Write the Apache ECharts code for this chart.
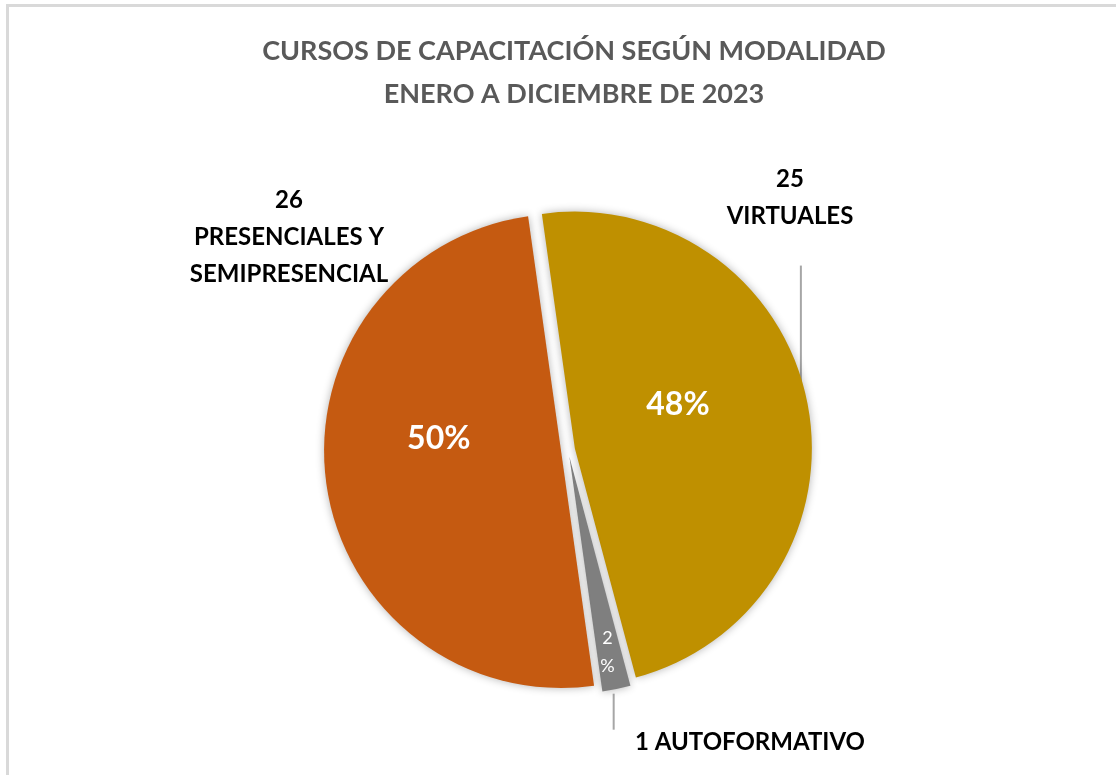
<!DOCTYPE html>
<html>
<head>
<meta charset="utf-8">
<script src="https://cdn.jsdelivr.net/npm/echarts@6/dist/echarts.min.js"></script>
<style>
html, body { margin: 0; padding: 0; background: #fff; }
#chart { width: 1116px; height: 775px; }
#frame { position: absolute; left: 6px; top: 4px; right: 0; bottom: 0;
         border-left: 3px solid #d9d9d9; border-top: 3px solid #d9d9d9; pointer-events: none; }
</style>
</head>
<body>
<div id="chart"></div>
<div id="frame"></div>
<script>
var categories = ['VIRTUALES', 'AUTOFORMATIVO', 'PRESENCIALES Y SEMIPRESENCIAL'];
var courses = [25, 1, 26];
var sliceColors = ['#BF9000', '#7F7F7F', '#C55A11'];
var titleLines = ['CURSOS DE CAPACITACIÓN SEGÚN MODALIDAD', 'ENERO A DICIEMBRE DE 2023'];

var font = 'Lato, "Liberation Sans", sans-serif';
var explode = 7;
// nudges for the percent labels inside slices
var innerShift = [[-16, -20], [14, 76], [-2, -29]];
// centres of the category labels outside the pie
var outerPos = [[790, 198], [750, 742], [289, 237]];

var pieData = categories.map(function (name, i) {
    return { name: name, value: courses[i], selected: true, itemStyle: { color: sliceColors[i] } };
});

var chart = echarts.init(document.getElementById('chart'));
var option = {
    animation: false,
    title: {
        text: titleLines.join('\n'),
        left: 569,
        textAlign: 'center',
        top: 25,
        textStyle: { fontFamily: font, fontSize: 27, fontWeight: 'bold', color: '#595959', lineHeight: 43 }
    },
    series: [{
        type: 'pie',
        center: [568, 450],
        radius: 237,
        startAngle: 98,
        selectedMode: 'multiple',
        selectedOffset: explode,
        percentPrecision: 0,
        emphasis: { disabled: true },
        itemStyle: { shadowBlur: 8, shadowColor: 'rgba(0,0,0,0.3)' },
        label: {
            position: 'inside',
            color: '#fff',
            fontFamily: font,
            fontSize: 32,
            fontWeight: 'bold',
            formatter: function (p) {
                return p.dataIndex === 1 ? '{s|' + p.percent + '}\n{s|%}' : p.percent + '%';
            },
            rich: { s: { color: '#fff', fontFamily: font, fontSize: 18, fontWeight: 'normal', lineHeight: 28 } }
        },
        labelLayout: function (p) {
            var s = innerShift[p.dataIndex];
            return { dx: s[0], dy: s[1] };
        },
        data: pieData
    }, {
        type: 'pie',
        center: [568, 450],
        radius: 237,
        startAngle: 98,
        silent: true,
        itemStyle: { color: 'transparent' },
        label: {
            position: 'outside',
            color: '#000',
            fontFamily: font,
            fontSize: 24,
            fontWeight: 'bold',
            lineHeight: 37,
            align: 'center',
            formatter: function (p) {
                if (p.dataIndex === 1) return p.value + ' ' + p.name;
                return p.value + '\n' + p.name.replace(' Y ', ' Y\n');
            }
        },
        labelLine: { show: false },
        labelLayout: function (p) {
            var c = outerPos[p.dataIndex];
            return { x: c[0], y: c[1], align: 'center', verticalAlign: 'middle' };
        },
        data: categories.map(function (name, i) { return { name: name, value: courses[i] }; })
    }]
};
chart.setOption(option);

// leader lines, taken from the slice geometry the library computed
var data = chart.getModel().getSeriesByIndex(0).getData();
function arcPoint(i, t) {
    var l = data.getItemLayout(i);
    var a = l.startAngle + (l.endAngle - l.startAngle) * t;
    var mid = (l.startAngle + l.endAngle) / 2;
    return [l.cx + l.r * Math.cos(a) + explode * Math.cos(mid),
            l.cy + l.r * Math.sin(a) + explode * Math.sin(mid)];
}
var pv = arcPoint(0, 0.48);
var pa = arcPoint(1, 0.6);
chart.setOption({
    graphic: [
        { type: 'line', shape: { x1: pv[0] - 3, y1: pv[1], x2: pv[0] - 3, y2: pv[1] - 122 },
          style: { stroke: '#a6a6a6', lineWidth: 2 } },
        { type: 'line', shape: { x1: pa[0], y1: pa[1] + 4, x2: pa[0], y2: pa[1] + 40 },
          style: { stroke: '#a6a6a6', lineWidth: 2 } }
    ]
});
</script>
</body>
</html>
